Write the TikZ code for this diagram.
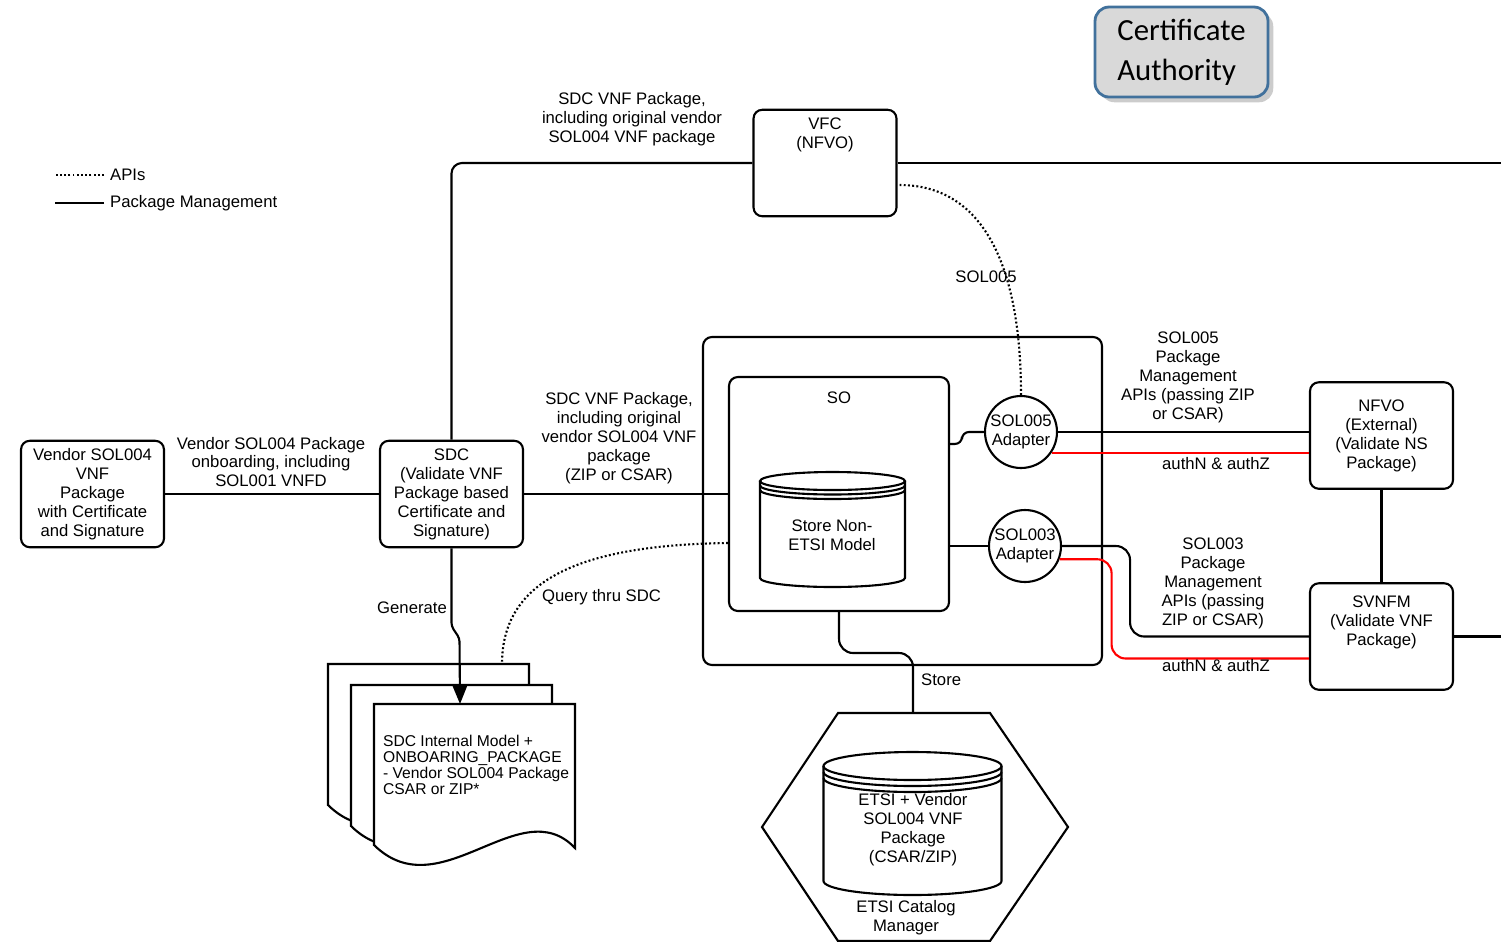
\documentclass[tikz,border=0pt]{standalone}
\usepackage{fontspec}
\setmainfont{Liberation Sans}
\newfontfamily\cafont{Carlito}
\usetikzlibrary{arrows.meta,calc,shadows}

\definecolor{castroke}{HTML}{41719C}
\definecolor{cafill}{HTML}{D9D9D9}

% datastore: centre x, half width, top y, bottom y, ellipse radius, ring step
\newcommand{\dbcyl}[6]{%
    \draw[line width=1.2pt, fill=white] ({#1-#2},#3) -- ({#1-#2},#4) arc[start angle=180, end angle=0, x radius=#2, y radius=#5] -- ({#1+#2},#3);
    \draw[line width=1.2pt] (#1,#3) ellipse [x radius=#2, y radius=#5];
    \foreach \k in {1,2}
        \draw[line width=1.2pt] ({#1-#2},{#3+\k*#6}) arc[start angle=180, end angle=0, x radius=#2, y radius=#5];
}

\begin{document}
\begin{tikzpicture}[x=0.02cm, y=-0.02cm,
        every node/.style={font=\fontsize{9.5}{10.8}\selectfont, align=center},
        box/.style={draw, rounded corners=5pt, line width=1.2pt, minimum width=2.86cm, minimum height=2.13cm, inner sep=1pt},
        adapter/.style={draw, circle, line width=1.2pt, minimum size=1.44cm, inner sep=0pt},
        pkgline/.style={line width=1.2pt},
        apiline/.style={line width=1.2pt, dash pattern=on 1.1pt off 1.3pt},
        authline/.style={line width=1.2pt, red}]
                    \useasboundingbox (0,0) rectangle (1501,941);
                    \clip (0,0) rectangle (1501,941);

                    % legend
                    \node (legApi) at (104,175) [anchor=west] {APIs};
                    \node (legPkg) at (104,203) [anchor=west] {Package Management};
                    \draw[apiline] (legApi.west) -- ++(-49,0);
                    \draw[pkgline] (legPkg.west) -- ++(-49,0);

                    \node (ca) at (1181.5,52) [draw=castroke, fill=cafill, line width=1.6pt, rounded corners=8pt,
                                               minimum width=3.46cm, minimum height=1.8cm,
                                               drop shadow={shadow xshift=3pt, shadow yshift=-3pt, opacity=0.4},
                                               font=\cafont\fontsize{17.5}{22.7}\selectfont, align=left] {Certificate\\Authority};

                    \node (sobox) at (902.5,501) [draw, rounded corners=5pt, line width=1.2pt,
                                                  minimum width=7.98cm, minimum height=6.56cm] {};
                    \node (vendor) at (92.5,494) [box] {Vendor SOL004\\VNF\\Package\\with Certificate\\and Signature};
                    \node (sdc) at (451.5,494) [box] {SDC\\(Validate VNF\\Package based\\Certificate and\\Signature)};
                    \node (vfc) at (825,163) [box, label={[anchor=north, yshift=-0.05cm]north:{VFC\\(NFVO)}}] {};
                    \node (so) at (839,494) [box, minimum width=4.4cm, minimum height=4.68cm,
                                             label={[anchor=north, yshift=-0.19cm]north:SO}] {};
                    \node (sol5) at (1021,432) [adapter] {SOL005\\Adapter};
                    \node (sol3) at (1025,546) [adapter] {SOL003\\Adapter};
                    \node (nfvo) at (1381.5,435.5) [box] {NFVO\\(External)\\(Validate NS\\Package)};
                    \node (svnfm) at (1381.5,636.5) [box, label={[anchor=north, yshift=-0.15cm]north:{SVNFM\\(Validate VNF\\Package)}}] {};

                    \dbcyl{832.5}{72.5}{481}{578}{9}{4.5}
                    \node (nonetsi) at (832,535) {Store Non-\\ETSI Model};

                    % catalog
                    \draw[pkgline] (838,713) -- (990,713) -- (1068,827) -- (990,941) -- (838,941) -- (762,827) -- cycle;
                    \coordinate (cattop) at (913,713);
                    \dbcyl{912.5}{89}{766}{881}{14}{6}
                    \node (etsipkg) at (913,830) {ETSI + Vendor\\SOL004 VNF\\Package\\(CSAR/ZIP)};
                    \node (catalog) at (906,918) {ETSI Catalog\\Manager};

                    % generated documents
                    \foreach \dx/\dy in {-46/-40,-23/-19,0/0}
                        \draw[pkgline, fill=white, shift={(\dx,\dy)}] (374,704) -- (575,704) -- (575,848)
                            .. controls (520,790) and (440,910) .. (374,845) -- cycle;
                    \coordinate (pagetop) at (460,704);
                    \coordinate (pageback) at (502,664);
                    \node (sdcmodel) at (381,733.5) [anchor=north west, align=left, inner sep=1pt,
                                                     font=\fontsize{8.9}{9.1}\selectfont] {SDC Internal Model +\\ONBOARING\_PACKAGE\\- Vendor SOL004 Package\\CSAR or ZIP*};

                    \coordinate (rightA) at (1510,163);
                    \coordinate (rightB) at (1510,636.5);

                    \foreach \Source/\Target in {%
                        vendor/sdc,
                        sdc/so,
                        nfvo/svnfm%
                        }
                        \draw[pkgline] (\Source) to (\Target);
                    \draw[pkgline, rounded corners=6pt] (sdc.north) |- (vfc.west);
                    \draw[pkgline] (vfc.east) -- (rightA);
                    \draw[pkgline] (svnfm.east) -- (rightB);
                    \draw[pkgline, rounded corners=4pt] ($(so.north east)+(0,68)$) -| ($(sol5.west)+(-22,0)$) -- (sol5.west);
                    \draw[pkgline] (so.east |- sol3.west) -- (sol3.west);
                    \draw[pkgline] (sol5.east) -- (nfvo.west |- sol5.east);
                    \draw[pkgline, rounded corners=8pt] (sol3.east) -| ($(sol3.east)+(68,50)$) |- (svnfm.west);
                    \draw[authline] (sol5.-34) -- (nfvo.west |- sol5.-34);
                    \draw[authline, rounded corners=8pt] (sol3.-21) -| ($(sol3.-21)+(52,40)$) |- ($(svnfm.west)+(0,22)$);
                    \draw[pkgline, rounded corners=8pt] (so.south) |- ($(cattop)+(0,-60)$) -- (cattop);
                    \draw[pkgline, rounded corners=2pt, -{Triangle[length=0.36cm, width=0.28cm]}] (sdc.south) -- ++(0,78) -- ++(8,12) -- (pagetop);
                    \draw[apiline] ($(vfc.east)+(2,22)$) .. controls (980,185) and (1021,260) .. (sol5.north);
                    \draw[apiline] ($(so.west)+(0,49)$) .. controls (580,545) and (502,580) .. (pageback);

                    % connector labels
                    \node (lblVendor) at (271,462) {Vendor SOL004 Package\\onboarding, including\\SOL001 VNFD};
                    \node (lblTop) at (632,119) {SDC VNF Package,\\including original vendor\\SOL004 VNF package};
                    \node (lblSo) at (619,438) {SDC VNF Package,\\including original\\vendor SOL004 VNF\\package\\(ZIP or CSAR)};
                    \node (lblSol5) at (1188,377) {SOL005\\Package\\Management\\APIs (passing ZIP\\or CSAR)};
                    \node (lblAuth1) at (1216,464) {authN \& authZ};
                    \node (lblSol3) at (1213,583) {SOL003\\Package\\Management\\APIs (passing\\ZIP or CSAR)};
                    \node (lblAuth2) at (1216,666) {authN \& authZ};
                    \node (lblApi) at (986,277) {SOL005};
                    \node (lblGen) at (453,608) [anchor=east] {Generate};
                    \node (lblQuery) at (536,597) [anchor=west] {Query thru SDC};
                    \node (lblStore) at (915,680) [anchor=west] {Store};
\end{tikzpicture}
\end{document}
